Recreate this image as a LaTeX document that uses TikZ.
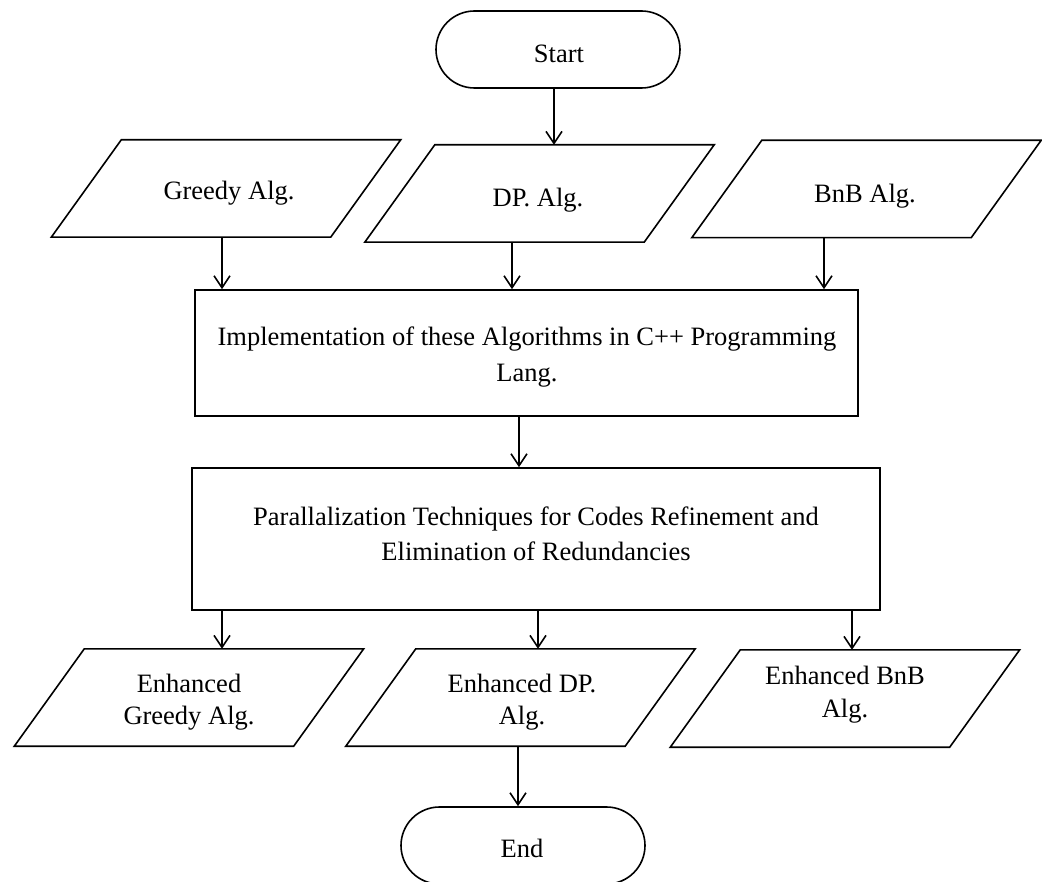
\documentclass[tikz,border=0pt]{standalone}
\usepackage{fontspec}
\setmainfont{Liberation Serif}
\usetikzlibrary{arrows.meta,calc}
\tikzset{
  every node/.style={font=\fontsize{26.5}{33}\selectfont},
  shapeline/.style={line width=1.6pt, line join=miter},
  arr/.style={line width=1.6pt, -{Straight Barb[length=12pt,width=16pt,line width=1.6pt]}},
  pill/.style={draw, line width=1.6pt, rounded corners=38.5pt, minimum width=244pt, minimum height=77pt, inner sep=0pt},
  procbox/.style={draw, line width=1.6pt, inner sep=0pt},
  parabox/.style={minimum width=279pt, minimum height=97pt, inner sep=0pt},
  txt/.style={align=center, inner sep=0pt},
}
\newcommand\drawpara[1]{%
  \draw[shapeline] ([xshift=35pt]#1.north west) -- ([xshift=35pt]#1.north east) -- ([xshift=-35pt]#1.south east) -- ([xshift=-35pt]#1.south west) -- cycle;}
\begin{document}
\begin{tikzpicture}[x=1pt,y=-1pt]
\useasboundingbox (0,0) rectangle (1042,882);
\fill[white] (0,0) rectangle (1042,882);

% terminals
\node[pill] (start) at (558,49.5) {};
\node[txt] (startt) at (559,53.5) {Start};
\node[pill] (end) at (523,845.5) {};
\node[txt] (endt) at (522,848.5) {End};

% input parallelograms
\node[parabox] (greedy) at (226,188.5) {};
\node[txt] (greedyt) at (229,193.5) {Greedy Alg.};
\node[parabox] (dp) at (539.5,193.5) {};
\node[txt] (dpt) at (538,200.5) {DP. Alg.};
\node[parabox] (bnb) at (866.5,189) {};
\node[txt] (bnbt) at (865,196.5) {BnB Alg.};
\drawpara{greedy}
\drawpara{dp}
\drawpara{bnb}

% process boxes
\node[procbox, minimum width=663pt, minimum height=126pt] (impl) at (526.5,353) {};
\node[txt, font=\fontsize{26.5}{36}\selectfont] (implt) at (527,357.5) {Implementation of these Algorithms in C++ Programming\\Lang.};
\node[procbox, minimum width=688pt, minimum height=142pt] (par) at (536,539) {};
\node[txt, font=\fontsize{26.5}{35}\selectfont] (part) at (536,534) {Parallalization Techniques for Codes Refinement and\\Elimination of Redundancies};

% output parallelograms
\node[parabox] (egreedy) at (189,697.5) {};
\node[txt, font=\fontsize{26.5}{32}\selectfont] (egreedyt) at (189,702.5) {Enhanced\\Greedy Alg.};
\node[parabox] (edp) at (520.5,697.5) {};
\node[txt, font=\fontsize{26.5}{32}\selectfont] (edpt) at (522,702.5) {Enhanced DP.\\Alg.};
\node[parabox] (ebnb) at (845,698.5) {};
\node[txt, font=\fontsize{26.5}{33}\selectfont] (ebnbt) at (845,695) {Enhanced BnB\\Alg.};
\drawpara{egreedy}
\drawpara{edp}
\drawpara{ebnb}

% connectors
\draw[arr] ([xshift=-4pt]start.south) -- ([xshift=-4pt]start.south |- dp.north);
\draw[arr] ([xshift=-4pt]greedy.south) -- ([xshift=-4pt]greedy.south |- impl.north);
\draw[arr] ([xshift=-27.5pt]dp.south) -- ([xshift=-27.5pt]dp.south |- impl.north);
\draw[arr] ([xshift=-42.5pt]bnb.south) -- ([xshift=-42.5pt]bnb.south |- impl.north);
\draw[arr] ([xshift=-7.5pt]impl.south) -- ([xshift=-7.5pt]impl.south |- par.north);
\draw[arr] ([xshift=33pt]egreedy.north |- par.south) -- ([xshift=33pt]egreedy.north);
\draw[arr] ([xshift=17.5pt]edp.north |- par.south) -- ([xshift=17.5pt]edp.north);
\draw[arr] ([xshift=7pt]ebnb.north |- par.south) -- ([xshift=7pt]ebnb.north);
\draw[arr] ([xshift=-2.5pt]edp.south) -- ([xshift=-2.5pt]edp.south |- end.north);
\end{tikzpicture}
\end{document}
